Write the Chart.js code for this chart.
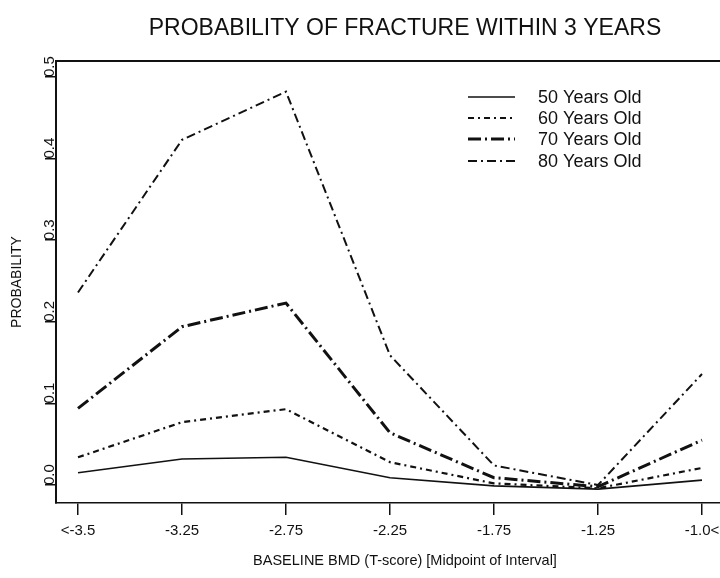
<!DOCTYPE html>
<html><head><meta charset="utf-8">
<script src="https://cdn.jsdelivr.net/npm/chart.js@4.4.1/dist/chart.umd.min.js"></script>
<style>html,body{margin:0;padding:0;background:#fff;overflow:hidden;width:720px;height:578px;} canvas{display:block;}</style>
</head><body>
<canvas id="c" width="754" height="578"></canvas>
<script>
// ---- data ----
const categories = ['<-3.5', '-3.25', '-2.75', '-2.25', '-1.75', '-1.25', '-1.0<'];
const age50 = [0.015, 0.032, 0.034, 0.009, -0.001, -0.005, 0.006];
const age60 = [0.034, 0.077, 0.093, 0.028, 0.002, -0.004, 0.021];
const age70 = [0.094, 0.194, 0.223, 0.064, 0.009, -0.002, 0.055];
const age80 = [0.236, 0.423, 0.482, 0.159, 0.024, 0.000, 0.136];
const seriesNames = ['50 Years Old', '60 Years Old', '70 Years Old', '80 Years Old'];
const yTicks = [0.0, 0.1, 0.2, 0.3, 0.4, 0.5];

const FONT = '"Liberation Sans", Arial, Helvetica, sans-serif';
const INK = '#111';

function pts(arr) { return categories.map((c, i) => ({ x: i, y: arr[i] })); }

const styles = [
  { dash: [], width: 1.6 },
  { dash: [6, 4, 2, 4], width: 2.2 },
  { dash: [13, 4, 2, 4], width: 3 },
  { dash: [9, 4, 2, 4], width: 2 }
];
const seriesData = [age50, age60, age70, age80];

const datasets = seriesData.map((arr, k) => ({
  label: seriesNames[k],
  data: pts(arr),
  borderColor: INK,
  borderWidth: styles[k].width,
  borderDash: styles[k].dash,
  fill: false,
  pointRadius: 0,
  tension: 0
}));

const framePlugin = {
  id: 'frameTop',
  afterDraw(chart) {
    const { ctx, chartArea } = chart;
    ctx.save();
    ctx.strokeStyle = INK;
    ctx.lineWidth = 2;
    ctx.beginPath();
    ctx.moveTo(chartArea.left, chartArea.top);
    ctx.lineTo(chartArea.right, chartArea.top);
    ctx.stroke();
    ctx.restore();
  }
};

const legendPlugin = {
  id: 'insetLegend',
  afterDraw(chart) {
    const ctx = chart.ctx;
    const x0 = 468, x1 = 515, tx = 538;
    const rows = [98, 119, 140, 162];
    ctx.save();
    chart.data.datasets.forEach((ds, i) => {
      ctx.beginPath();
      ctx.setLineDash(ds.borderDash || []);
      ctx.lineWidth = ds.borderWidth;
      ctx.strokeStyle = ds.borderColor;
      ctx.moveTo(x0, rows[i] - 1);
      ctx.lineTo(x1, rows[i] - 1);
      ctx.stroke();
      ctx.setLineDash([]);
      ctx.fillStyle = INK;
      ctx.font = '18px ' + FONT;
      ctx.textBaseline = 'middle';
      ctx.textAlign = 'left';
      ctx.fillText(ds.label, tx, rows[i]);
    });
    ctx.restore();
  }
};

new Chart(document.getElementById('c'), {
  type: 'line',
  data: { datasets },
  options: {
    responsive: false,
    animation: false,
    devicePixelRatio: 1,
    layout: { padding: { left: 0, right: 0, top: 0, bottom: 0 } },
    plugins: {
      legend: { display: false },
      tooltip: { enabled: false },
      title: {
        display: true,
        text: 'PROBABILITY OF FRACTURE WITHIN 3 YEARS',
        fullSize: false,
        color: INK,
        font: { family: FONT, size: 23, weight: 'normal' },
        padding: { top: 15, bottom: 18.4 }
      }
    },
    scales: {
      x: {
        type: 'linear',
        position: 'bottom',
        min: -0.2115,
        max: 6.5,
        afterBuildTicks: s => { s.ticks = categories.map((c, i) => ({ value: i })); },
        afterFit: s => { s.height = 75; s.paddingLeft = 0; s.paddingRight = 0; },
        ticks: {
          includeBounds: false,
          autoSkip: false,
          maxRotation: 0,
          minRotation: 0,
          padding: 7,
          color: INK,
          font: { family: FONT, size: 15 },
          callback: (v, i) => categories[i]
        },
        grid: { drawOnChartArea: false, drawTicks: true, tickLength: 12, color: INK, lineWidth: 1.5 },
        border: { display: true, color: INK, width: 1.5 },
        title: {
          display: true,
          text: 'BASELINE BMD (T-score) [Midpoint of Interval]',
          color: INK,
          font: { family: FONT, size: 14.5 },
          padding: { top: 0, bottom: 8.6 }
        }
      },
      y: {
        type: 'linear',
        position: 'left',
        weight: 0,
        min: -0.022,
        max: 0.5196,
        afterBuildTicks: s => { s.ticks = yTicks.map(v => ({ value: v })); },
        afterFit: s => { s.width = 14; s.paddingTop = 0; s.paddingBottom = 0; },
        ticks: {
          includeBounds: false,
          minRotation: 90,
          maxRotation: 90,
          crossAlign: 'far',
          align: 'start',
          color: INK,
          font: { family: FONT, size: 15 },
          callback: v => Number(v).toFixed(1)
        },
        grid: { drawOnChartArea: false, drawTicks: true, tickLength: 11, color: INK, lineWidth: 1.5 },
        border: { display: true, color: INK, width: 2 }
      },
      ytitle: {
        type: 'linear',
        position: 'left',
        weight: 1,
        afterFit: s => { s.width = 42; },
        ticks: { display: false },
        grid: { display: false, drawTicks: false },
        border: { display: false },
        title: {
          display: true,
          text: 'PROBABILITY',
          color: INK,
          font: { family: FONT, size: 14 },
          padding: { top: 8.6, bottom: 0 }
        }
      }
    }
  },
  plugins: [framePlugin, legendPlugin]
});
</script>
</body></html>
